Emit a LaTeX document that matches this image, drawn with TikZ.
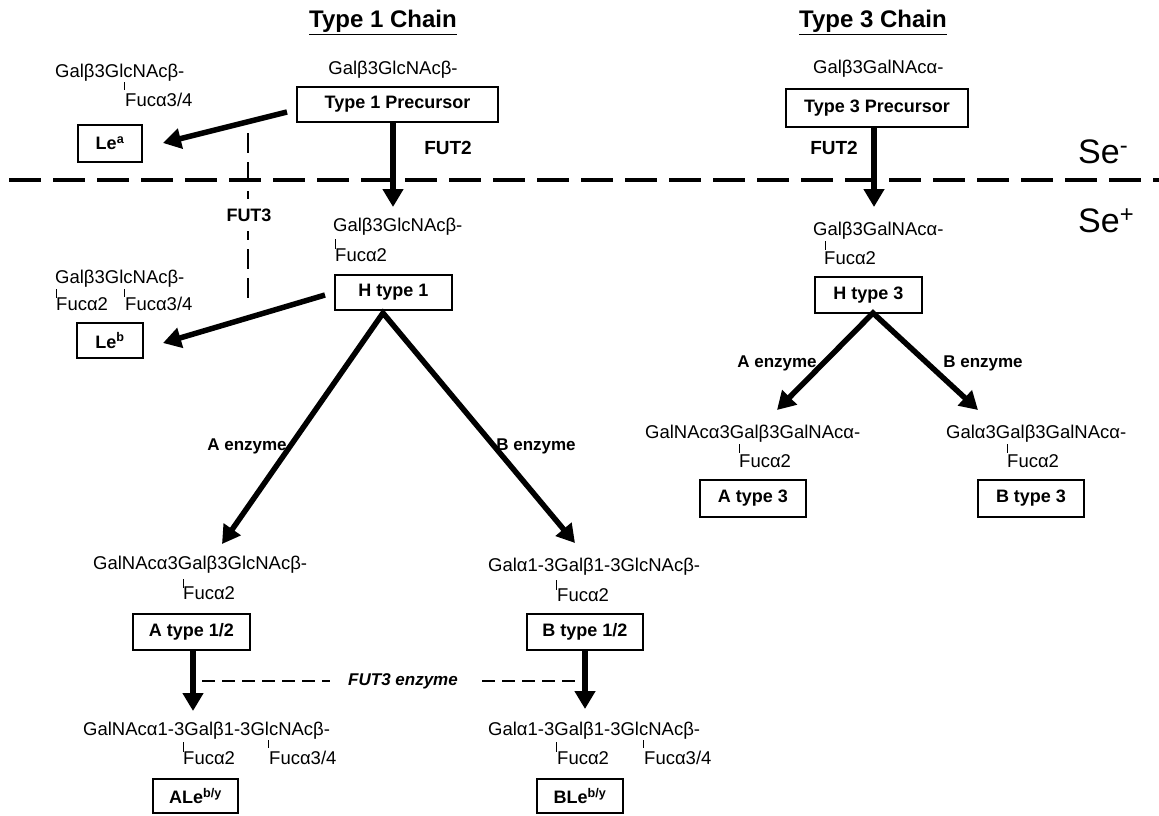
\documentclass[tikz,border=0pt]{standalone}
\usepackage{fontspec}
\setmainfont{Liberation Sans}
\usetikzlibrary{arrows.meta}
\begin{document}
\begin{tikzpicture}[x=1pt,y=-1pt,
  struct/.style={font=\fontsize{18.5}{20}\selectfont, inner sep=0pt, anchor=base west},
  structc/.style={struct, anchor=base},
  lbl/.style={draw, line width=1.4pt, inner sep=0pt, font=\bfseries\fontsize{18}{20}\selectfont},
  bigarrow/.style={line width=5.5pt, -{Triangle[length=18pt,width=20pt]}},
  twoarrow/.style={line width=5.5pt, line join=miter, {Triangle[length=18pt,width=20pt]}-{Triangle[length=18pt,width=20pt]}},
  tick/.style={line width=1pt},
  enz/.style={font=\bfseries\fontsize{17}{20}\selectfont, inner sep=0pt},
  fut/.style={font=\bfseries\fontsize{19}{20}\selectfont, inner sep=0pt},
  thindash/.style={line width=1.2pt, dash pattern=on 13pt off 7pt},
  vdash/.style={line width=1.2pt, dash pattern=on 20pt off 9pt},
  title/.style={font=\bfseries\fontsize{24}{28}\selectfont, inner sep=0pt, anchor=base},
  se/.style={font=\fontsize{34}{40}\selectfont, inner sep=0pt, anchor=base west},
]
\useasboundingbox (0,0) rectangle (1159,815);

% secretor divider
\draw[line width=4pt, dash pattern=on 32pt off 12pt, dash phase=35pt] (0,180) -- (1159,180);
\node[se] (seneg) at (1078,163) {Se\textsuperscript{-}};
\node[se] (sepos) at (1078,232) {Se\textsuperscript{+}};

% titles
\node[title] (t1title) at (383,27.5) {\underline{Type 1 Chain}};
\node[title] (t3title) at (873,27.5) {\underline{Type 3 Chain}};

% ---------- Type 1 chain ----------
\node[structc] (s1top) at (393,74.5) {Galβ3GlcNAcβ-};
\node[lbl, minimum width=201pt, minimum height=35pt] (t1p) at (397.5,104.5) {Type 1 Precursor};

% Le a
\node[struct] (sleag) at (55,77.5) {Galβ3GlcNAcβ-};
\node[struct] (sleaf) at (125,106.5) {Fucα3/4};
\draw[tick] (124,82) -- (124,90);
\node[lbl, minimum width=64pt, minimum height=37pt] (lea) at (110,143.5) {Le\textsuperscript{a}};

% H type 1
\node[struct] (sh1g) at (333,231) {Galβ3GlcNAcβ-};
\node[struct] (sh1f) at (335,261.5) {Fucα2};
\draw[tick] (335,239) -- (335,249);
\node[lbl, minimum width=117pt, minimum height=35pt] (h1) at (393.5,292.5) {H type 1};

% Le b
\node[struct] (slebg) at (55,283.5) {Galβ3GlcNAcβ-};
\node[struct] (slebf1) at (56,310.5) {Fucα2};
\node[struct] (slebf2) at (125,310.5) {Fucα3/4};
\draw[tick] (56,289) -- (56,298);
\draw[tick] (124,289) -- (124,297);
\node[lbl, minimum width=66pt, minimum height=35pt] (leb) at (110,340.5) {Le\textsuperscript{b}};

% FUT3 vertical dashed
\draw[vdash] (248,133) -- (248,305);
\node[fut, fill=white, inner xsep=2pt, inner ysep=10pt, font=\bfseries\fontsize{18}{20}\selectfont] (fut3) at (249,215) {FUT3};

% FUT2 label type 1
\node[fut] (fut2a) at (448,148) {FUT2};

% enzyme labels type 1
\node[enz] (aenz1) at (247,446) {A enzyme};
\node[enz] (benz1) at (536,446) {B enzyme};

% A type 1/2
\node[struct] (sag) at (93,569.5) {GalNAcα3Galβ3GlcNAcβ-};
\node[struct] (saf) at (183,599) {Fucα2};
\draw[tick] (183,579) -- (183,588);
\node[lbl, minimum width=117pt, minimum height=36pt] (a12) at (191.5,632) {A type 1/2};

% B type 1/2
\node[struct] (sbg) at (488,571.5) {Galα1-3Galβ1-3GlcNAcβ-};
\node[struct] (sbf) at (557,601) {Fucα2};
\draw[tick] (556,580) -- (556,590);
\node[lbl, minimum width=116pt, minimum height=36pt] (b12) at (585,632) {B type 1/2};

% FUT3 enzyme dashed
\draw[thindash] (202,681) -- (585,681);
\node[enz, fill=white, inner xsep=18pt, inner ysep=3pt, font=\bfseries\itshape\fontsize{17}{20}\selectfont] (fut3e) at (403,681) {FUT3 enzyme};

% ALe b/y
\node[struct] (saleg) at (83,735.5) {GalNAcα1-3Galβ1-3GlcNAcβ-};
\node[struct] (salef1) at (183,764.5) {Fucα2};
\node[struct] (salef2) at (269,764.5) {Fucα3/4};
\draw[tick] (183,742) -- (183,752);
\draw[tick] (268,740) -- (268,748);
\node[lbl, minimum width=85pt, minimum height=34pt] (ale) at (195.5,796) {ALe\textsuperscript{b/y}};

% BLe b/y
\node[struct] (sbleg) at (488,735.5) {Galα1-3Galβ1-3GlcNAcβ-};
\node[struct] (sblef1) at (557,764.5) {Fucα2};
\node[struct] (sblef2) at (644,764.5) {Fucα3/4};
\draw[tick] (556,742) -- (556,752);
\draw[tick] (643,740) -- (643,748);
\node[lbl, minimum width=86pt, minimum height=34pt] (ble) at (580,796) {BLe\textsuperscript{b/y}};

% ---------- Type 3 chain ----------
\node[struct] (s3top) at (813,73.5) {Galβ3GalNAcα-};
\node[lbl, minimum width=182pt, minimum height=38pt] (t3p) at (877,108) {Type 3 Precursor};
\node[fut] (fut2b) at (834,148) {FUT2};

\node[struct] (sh3g) at (813,235.5) {Galβ3GalNAcα-};
\node[struct] (sh3f) at (824,264.5) {Fucα2};
\draw[tick] (825,241) -- (825,250);
\node[lbl, minimum width=107pt, minimum height=36pt] (h3) at (868.5,295) {H type 3};

\node[enz] (aenz3) at (777,363) {A enzyme};
\node[enz] (benz3) at (983,363) {B enzyme};

\node[struct] (sa3g) at (645,438.5) {GalNAcα3Galβ3GalNAcα-};
\node[struct] (sa3f) at (739,467.5) {Fucα2};
\draw[tick] (739,444) -- (739,453);
\node[lbl, minimum width=106pt, minimum height=37pt] (a3) at (753,498.5) {A type 3};

\node[struct] (sb3g) at (946,438.5) {Galα3Galβ3GalNAcα-};
\node[struct] (sb3f) at (1007,467.5) {Fucα2};
\draw[tick] (1007,444) -- (1007,453);
\node[lbl, minimum width=106pt, minimum height=37pt] (b3) at (1031,498.5) {B type 3};

% ---------- arrows ----------
\coordinate (p1out) at (287,112);
\coordinate (leain) at (163,143);
\coordinate (h1in) at (393,207);
\coordinate (h1out) at (325,295);
\coordinate (lebin) at (163,343);
\coordinate (h1apex) at (383,313);
\coordinate (a12in) at (222,544);
\coordinate (b12in) at (575,543);
\coordinate (alein) at (193,711);
\coordinate (blein) at (585,709);
\coordinate (h3in) at (874,207);
\coordinate (h3apex) at (873,313);
\coordinate (a3in) at (777,410);
\coordinate (b3in) at (978,410);

\draw[bigarrow] (p1out) -- (leain);
\draw[bigarrow] (t1p.south -| h1in) -- (h1in);
\draw[bigarrow] (h1out) -- (lebin);
\draw[twoarrow] (a12in) -- (h1apex) -- (b12in);
\draw[bigarrow] (a12.south -| alein) -- (alein);
\draw[bigarrow] (b12.south -| blein) -- (blein);
\draw[bigarrow] (t3p.south -| h3in) -- (h3in);
\draw[twoarrow] (a3in) -- (h3apex) -- (b3in);
\end{tikzpicture}
\end{document}
